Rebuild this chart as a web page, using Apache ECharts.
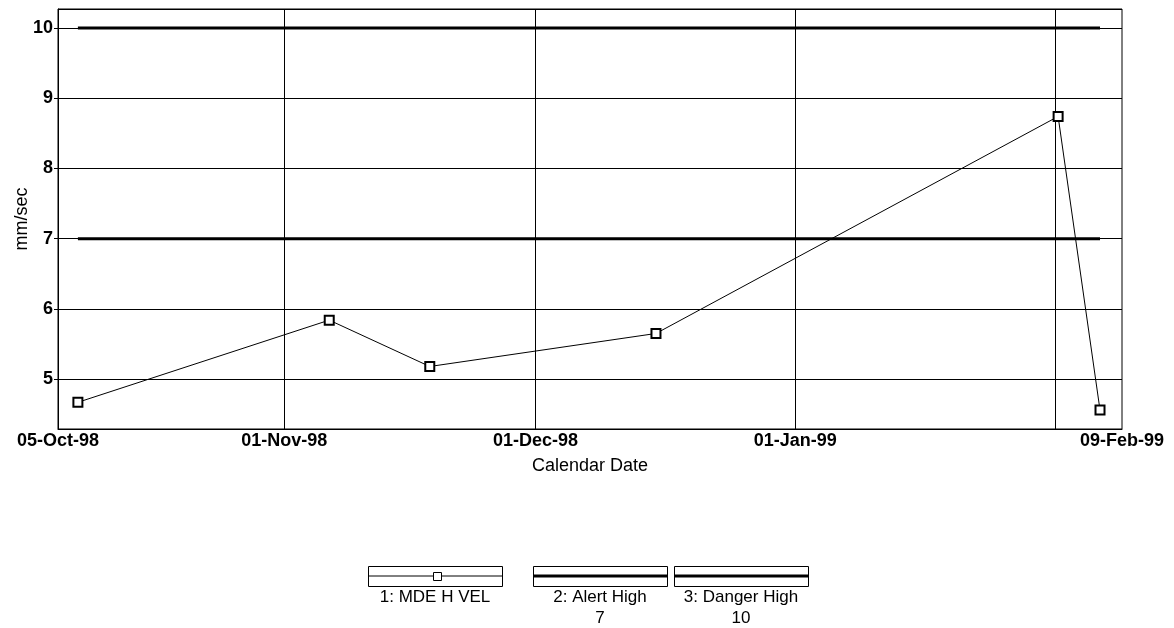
<!DOCTYPE html>
<html>
<head>
<meta charset="utf-8">
<script src="https://cdn.jsdelivr.net/npm/echarts@6/dist/echarts.min.js"></script>
<style>
  html, body { margin: 0; padding: 0; background: #fff; }
  #chart { width: 1174px; height: 628px; }
</style>
</head>
<body>
<div id="chart"></div>
<script>
// readings of MDE H VEL (mm/sec)
var measureDates = ['1998-10-07 09:00', '1998-11-06 09:00', '1998-11-18 09:00', '1998-12-15 09:00', '1999-02-01 09:00', '1999-02-06 09:00'];
var mdeHVel = [4.67, 5.84, 5.18, 5.65, 8.74, 4.56];

// limits
var alertHigh = 7;
var dangerHigh = 10;

// axis
var xMin = '1998-10-05';
var xMax = '1999-02-09';
var xLabelDates = ['1998-10-05', '1998-11-01', '1998-12-01', '1999-01-01', '1999-02-09'];
var monthLines = ['1998-11-01', '1998-12-01', '1999-01-01', '1999-02-01'];
var yMin = 4.29;
var yMax = 10.27;

var seriesNames = ['1: MDE H VEL', '2: Alert High', '3: Danger High'];
var limitLabels = ['', String(alertHigh), String(dangerHigh)];

var monthNames = ['Jan', 'Feb', 'Mar', 'Apr', 'May', 'Jun', 'Jul', 'Aug', 'Sep', 'Oct', 'Nov', 'Dec'];
function ts(s) {
    var parts = s.split(' ');
    var p = parts[0].split('-');
    var h = parts[1] ? +parts[1].split(':')[0] : 0;
    return Date.UTC(+p[0], +p[1] - 1, +p[2], h);
}
function fmtDate(v) {
    var d = new Date(Math.round(v));
    var dd = ('0' + d.getUTCDate()).slice(-2);
    var yy = ('0' + (d.getUTCFullYear() % 100)).slice(-2);
    return dd + '-' + monthNames[d.getUTCMonth()] + '-' + yy;
}

var firstDate = ts(measureDates[0]);
var lastDate = ts(measureDates[measureDates.length - 1]);

var font = 'Liberation Sans, Arial, sans-serif';

// legend boxes drawn underneath the chart
var legendGraphics = [];
var boxX = [368, 533, 674];
for (var i = 0; i < 3; i++) {
    var x0 = boxX[i];
    legendGraphics.push({
        type: 'rect', left: x0, top: 566,
        shape: { width: 134, height: 20 },
        style: { fill: '#fff', stroke: '#000', lineWidth: 1 }
    });
    legendGraphics.push({
        type: 'line',
        shape: { x1: x0, y1: 576, x2: x0 + 134, y2: 576 },
        style: { stroke: '#000', lineWidth: i === 0 ? 1 : 3 }
    });
    legendGraphics.push({
        type: 'text', x: x0 + 67, y: 597,
        style: { text: seriesNames[i], font: '17px ' + font, fill: '#000', textAlign: 'center', textVerticalAlign: 'middle' }
    });
    if (limitLabels[i]) {
        legendGraphics.push({
            type: 'text', x: x0 + 67, y: 618,
            style: { text: limitLabels[i], font: '17px ' + font, fill: '#000', textAlign: 'center', textVerticalAlign: 'middle' }
        });
    }
}
legendGraphics.push({
    type: 'rect', left: 433, top: 572,
    shape: { width: 8, height: 8 },
    style: { fill: '#fff', stroke: '#000', lineWidth: 1 }
});

var chart = echarts.init(document.getElementById('chart'));
var option = {
    backgroundColor: '#fff',
    animation: false,
    grid: {
        left: 58, right: 52, top: 9, bottom: 199,
        outerBoundsMode: 'none',
        show: true, borderColor: '#000', borderWidth: 1, backgroundColor: 'transparent'
    },
    xAxis: {
        type: 'value',
        min: ts(xMin),
        max: ts(xMax),
        name: 'Calendar Date',
        nameLocation: 'middle',
        nameGap: 28,
        nameMoveOverlap: false,
        nameTextStyle: { color: '#000', fontSize: 18, fontFamily: font },
        axisLine: { lineStyle: { color: '#000' } },
        axisTick: { show: false },
        splitLine: { show: false },
        axisLabel: {
            customValues: xLabelDates.map(ts),
            formatter: function (v) { return fmtDate(v); },
            color: '#000', fontSize: 18, fontWeight: 'bold', fontFamily: font, margin: 3,
            showMinLabel: true, showMaxLabel: true
        }
    },
    yAxis: {
        type: 'value',
        min: yMin,
        max: yMax,
        splitNumber: 6,
        name: 'mm/sec',
        nameLocation: 'middle',
        nameGap: 27,
        nameMoveOverlap: false,
        nameTextStyle: { color: '#000', fontSize: 18, fontFamily: font },
        axisLine: { show: true, lineStyle: { color: '#000' } },
        axisTick: { show: true, length: 4, lineStyle: { color: '#000' } },
        splitLine: { show: true, lineStyle: { color: '#000', width: 1 } },
        axisLabel: {
            color: '#000', fontSize: 18, fontWeight: 'bold', fontFamily: font, margin: 5,
            showMinLabel: false, showMaxLabel: false
        }
    },
    graphic: legendGraphics,
    series: [
        {
            name: seriesNames[0],
            type: 'line',
            data: measureDates.map(function (d, k) { return [ts(d), mdeHVel[k]]; }),
            symbol: 'emptyRect',
            symbolSize: 9,
            itemStyle: { color: '#000', borderColor: '#000', borderWidth: 1 },
            lineStyle: { color: '#000', width: 1 },
            z: 5,
            markLine: {
                silent: true,
                symbol: 'none',
                label: { show: false },
                lineStyle: { color: '#000', width: 1, type: 'solid' },
                data: monthLines.map(function (d) { return { xAxis: ts(d) }; })
            }
        },
        {
            name: seriesNames[1],
            type: 'line',
            data: [[firstDate, alertHigh], [lastDate, alertHigh]],
            symbol: 'none',
            lineStyle: { color: '#000', width: 3 },
            z: 3
        },
        {
            name: seriesNames[2],
            type: 'line',
            data: [[firstDate, dangerHigh], [lastDate, dangerHigh]],
            symbol: 'none',
            lineStyle: { color: '#000', width: 3 },
            z: 3
        }
    ]
};
chart.setOption(option);
window.addEventListener('resize', function () {
    chart.resize();
});
</script>
</body>
</html>
